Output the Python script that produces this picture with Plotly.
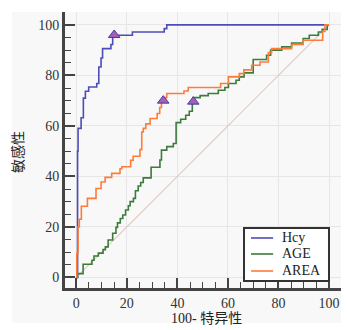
import plotly.graph_objects as go

# ROC step points (x = 100-specificity, y = sensitivity); curve rises to y at x
hcy_x = [0, 0.5, 0.7, 1.9, 2.8, 3.6, 4.9, 8.1, 8.9, 9.8, 10.4, 13.7, 14.4, 22.2, 34.8, 35.8, 100]
hcy_y = [0, 50, 59, 63.2, 71, 73.7, 75.4, 76.8, 83.3, 86.9, 90.6, 92.2, 95.9, 97.2, 98.5, 100, 100]

age_x = [0, 0.5, 2.7, 6.2, 7.0, 8.7, 10.6, 11.5, 12.6, 14.4, 15.7, 16.3, 17.4, 18.4, 19.5, 20.6, 21.3,
         22.6, 23.4, 24.5, 25.5, 26.5, 29.6, 33.1, 33.7, 35.8, 38.4, 39.5, 41.3, 43.3, 44.7, 45.9, 46.3,
         49.0, 52.2, 56.2, 58.8, 60.2, 63.2, 64.5, 66.4, 70.0, 75.3, 76.9, 81.3, 85.2, 89.8, 92.2, 95.8,
         97.3, 99.3, 100]
age_y = [0, 1.5, 5.2, 6.8, 8.5, 9.6, 11.0, 12.1, 14.8, 17.5, 19.8, 21.6, 23.3, 24.7, 26.7, 28.4, 30.0,
         31.3, 34.3, 36.2, 37.6, 39.4, 43.6, 46.5, 50.4, 51.8, 53.0, 61.3, 62.6, 64.2, 65.8, 68.9, 71.2,
         72.0, 72.8, 74.1, 75.2, 76.8, 78.1, 79.4, 81.0, 86.3, 88.0, 90.0, 91.3, 92.8, 94.6, 95.9, 97.2,
         98.2, 100, 100]

area_x = [0, 0.2, 0.7, 1.2, 2.0, 4.4, 7.8, 9.8, 11.4, 14.0, 17.3, 18.0, 21.5, 22.5, 25.2, 25.9, 26.5,
          27.5, 29.2, 32.0, 33.0, 33.7, 34.6, 35.8, 42.6, 44.3, 57.1, 60.2, 64.5, 66.3, 69.4, 72.7, 76.0,
          77.3, 85.2, 89.8, 97.5, 98.4, 100]
area_y = [0, 9.5, 20, 23, 28.2, 31.3, 35.2, 37.8, 39.6, 41.2, 43.0, 43.8, 46.4, 48.0, 50.6, 57.6, 59.0,
          60.8, 62.9, 64.9, 67.3, 70.0, 71.2, 72.8, 73.8, 75.2, 76.8, 79.4, 80.7, 82.2, 84.0, 85.3, 89.0,
          90.6, 92.2, 93.9, 97.4, 100, 100]

cut_x = [15.0, 34.4, 46.3]
cut_y = [96.0, 70.0, 69.6]

diag = [0, 100]
ticks = [0, 20, 40, 60, 80, 100]
tick_labels = ["0", "20", "40", "60", "80", "100"]

series_names = ["Hcy", "AGE", "AREA"]
series_colors = ["#4d4db8", "#3c7b3c", "#ff7b3a"]

serif = "Liberation Serif, Noto Sans CJK SC, serif"

fig = go.Figure()
fig.add_trace(go.Scatter(x=diag, y=diag, mode="lines", line=dict(color="#e8c6bd", width=1.1),
                         showlegend=False, hoverinfo="skip"))
for name, xs, ys, col in zip(series_names, [hcy_x, age_x, area_x], [hcy_y, age_y, area_y], series_colors):
    fig.add_trace(go.Scatter(x=xs, y=ys, mode="lines", name=name, line_shape="hv",
                             line=dict(color=col, width=1.6), showlegend=False))
fig.add_trace(go.Scatter(x=cut_x, y=cut_y, mode="markers", showlegend=False,
                         marker=dict(symbol="triangle-up", size=10, color="#a65fb3",
                                     line=dict(color="#3d3da8", width=1))))

axis_common = dict(
    tickvals=ticks, ticktext=tick_labels,
    ticks="inside", ticklen=10, tickwidth=1.5, tickcolor="#444",
    minor=dict(ticks="inside", ticklen=6, tickwidth=1.2, tickcolor="#444", dtick=5, tick0=0, showgrid=False),
    showline=True, linewidth=3, linecolor="#444",
    showgrid=True, gridcolor="#e6e6e6", gridwidth=1, zeroline=False,
    tickfont=dict(family=serif, size=14, color="#333"),
    automargin=False,
)

fig.update_xaxes(range=[-4.47, 104.75], **axis_common)
fig.update_yaxes(range=[-4.2, 105.1], **axis_common)

# background panel
fig.add_shape(type="rect", xref="paper", yref="paper", x0=-0.192, x1=1.0, y0=-0.127, y1=1.0,
              fillcolor="#f8f8f8", line=dict(width=0), layer="below")

# axis titles
fig.add_annotation(text="100- 特异性", xref="paper", yref="paper", x=0.514, y=-0.109,
                   xanchor="center", yanchor="middle", showarrow=False,
                   font=dict(family=serif, size=14, color="#222"))
fig.add_annotation(text="敏感性", xref="paper", yref="paper", x=-0.17, y=0.493,
                   xanchor="center", yanchor="middle", showarrow=False, textangle=-90,
                   font=dict(family=serif, size=14, color="#222"))

# legend box
fig.add_shape(type="rect", xref="paper", yref="paper", x0=0.6486, x1=0.9565, y0=0.0254, y1=0.2174,
              fillcolor="white", line=dict(color="#333", width=2), layer="above")
row_y = [0.1812, 0.1232, 0.0616]
for name, col, ry in zip(series_names, series_colors, row_y):
    fig.add_shape(type="line", xref="paper", yref="paper", x0=0.674, x1=0.754, y0=ry, y1=ry,
                  line=dict(color=col, width=1.6), layer="above")
    fig.add_annotation(text=name, xref="paper", yref="paper", x=0.779, y=ry,
                       xanchor="left", yanchor="middle", showarrow=False,
                       font=dict(family=serif, size=14, color="#222"))

fig.update_layout(
    width=347, height=330,
    margin=dict(l=65, r=6, t=12, b=42),
    paper_bgcolor="white", plot_bgcolor="#f8f8f8",
    font=dict(family=serif, size=14, color="#222"),
    showlegend=False,
)

fig.write_html("out.html", config={"displayModeBar": False},
               post_script="document.body.style.margin='0';document.body.style.overflow='hidden';")
